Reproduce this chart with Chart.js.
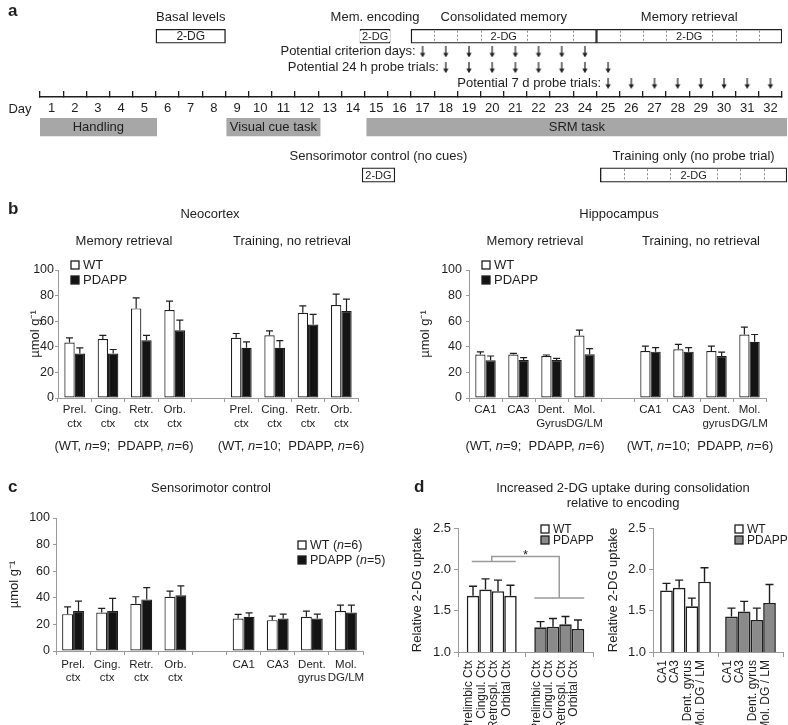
<!DOCTYPE html>
<html>
<head>
<meta charset="utf-8">
<script src="https://cdn.jsdelivr.net/npm/chart.js@4.4.1/dist/chart.umd.min.js"></script>
<style>
  html, body { margin: 0; padding: 0; background: #fff; }
  body { width: 788px; height: 725px; position: relative; overflow: hidden;
         font-family: "Liberation Sans", Arial, Helvetica, sans-serif; color: #1e1e1e; }
  canvas { position: absolute; }
  .t { position: absolute; white-space: nowrap; font-size: 13px; transform: translate(-50%, -50%); }
  .p { position: absolute; font-weight: bold; font-size: 17px; transform: translateY(-50%); }
</style>
</head>
<body>
<canvas id="aTop" width="788" height="120" style="left:0;top:0"></canvas>
<canvas id="aBottom" width="788" height="82" style="left:0;top:118px"></canvas>
<canvas id="bNeo" width="395" height="250" style="left:0;top:200px"></canvas>
<canvas id="bHip" width="393" height="250" style="left:395px;top:200px"></canvas>
<canvas id="cCtrl" width="420" height="275" style="left:0;top:450px"></canvas>
<canvas id="dNeo" width="200" height="275" style="left:400px;top:450px"></canvas>
<canvas id="dHip" width="188" height="275" style="left:600px;top:450px"></canvas>

<div class="p" style="left:8px;top:11px">a</div>
<div class="p" style="left:8px;top:209px">b</div>
<div class="t" style="left:210px;top:213px">Neocortex</div>
<div class="t" style="left:124px;top:240px">Memory retrieval</div>
<div class="t" style="left:292px;top:240px">Training, no retrieval</div>
<div class="t" style="left:619px;top:213px">Hippocampus</div>
<div class="t" style="left:535px;top:240px">Memory retrieval</div>
<div class="t" style="left:701px;top:240px">Training, no retrieval</div>
<div class="t" style="left:124px;top:445px">(WT, <i>n</i>=9;&nbsp; PDAPP, <i>n</i>=6)</div>
<div class="t" style="left:291px;top:445px">(WT, <i>n</i>=10;&nbsp; PDAPP, <i>n</i>=6)</div>
<div class="t" style="left:535px;top:445px">(WT, <i>n</i>=9;&nbsp; PDAPP, <i>n</i>=6)</div>
<div class="t" style="left:700px;top:445px">(WT, <i>n</i>=10;&nbsp; PDAPP, <i>n</i>=6)</div>
<div class="p" style="left:8px;top:487px">c</div>
<div class="t" style="left:211px;top:487px">Sensorimotor control</div>
<div class="p" style="left:414px;top:487px">d</div>
<div class="t" style="left:623px;top:487px">Increased 2-DG uptake during consolidation</div>
<div class="t" style="left:623px;top:502px">relative to encoding</div>

<script>
const FONT = '"Liberation Sans", Arial, Helvetica, sans-serif';
const INK = '#1e1e1e';
const AXIS = '#9a9a9a';

// ---- panel a: protocol timeline ----
const dayLabels = ['1', '2', '3', '4', '5', '6', '7', '8', '9', '10', '11', '12', '13', '14', '15', '16',
                   '17', '18', '19', '20', '21', '22', '23', '24', '25', '26', '27', '28', '29', '30', '31', '32'];
const taskNames = ['Handling', 'Visual cue task', 'SRM task'];
const taskSpans = [[0.5, 5.5], [8.5, 12.5], [14.5, 32.5]];
const dgTitles = ['Basal levels', 'Mem. encoding', 'Consolidated memory', 'Memory retrieval'];
const dgSpans = [[5.5, 8.5], [14.3, 15.6], [16.5, 24.5], [24.5, 32.5]];
const ctrlTitles = ['Sensorimotor control (no cues)', 'Training only (no probe trial)'];
const ctrlSpans = [[14.3, 15.7], [24.5, 32.5]];
const criterionDays = [17, 18, 19, 20, 21, 22, 23, 24];
const probe24hDays = [18, 19, 20, 21, 22, 23, 24, 25];
const probe7dDays = [25, 26, 27, 28, 29, 30, 31, 32];

// ---- panel b: neocortex ----
const neoLabels = [['Prel.', 'ctx'], ['Cing.', 'ctx'], ['Retr.', 'ctx'], ['Orb.', 'ctx'], '',
                   ['Prel.', 'ctx'], ['Cing.', 'ctx'], ['Retr.', 'ctx'], ['Orb.', 'ctx']];
const neoWT = [43.3, 46, 70, 68.7, null, 47, 49, 66.6, 72.6];
const neoWTsem = [3.7, 3, 8.3, 7, null, 3.4, 3.5, 5.4, 8.6];
const neoPD = [34.7, 34.7, 45.2, 53, null, 39.2, 39.2, 57.4, 67.9];
const neoPDsem = [4.5, 3.2, 3.8, 7.8, null, 4.7, 5.7, 7.9, 9.4];

// ---- panel b: hippocampus ----
const hipLabels = ['CA1', 'CA3', ['Dent.', 'Gyrus'], ['Mol.', 'DG/LM'], '',
                   'CA1', 'CA3', ['Dent.', 'gyrus'], ['Mol.', 'DG/LM']];
const hipWT = [34, 34, 32.8, 48.8, null, 36.7, 38, 36.7, 49.6];
const hipWTsem = [2.1, 0.8, 0.8, 4.2, null, 3.9, 3.9, 3.9, 5.7];
const hipPD = [29.5, 29.7, 29.7, 34.1, null, 36.2, 36.2, 32.8, 43.9];
const hipPDsem = [3.3, 1.8, 1.3, 4.4, null, 3.1, 3.1, 3.1, 5.7];

// ---- panel c: sensorimotor control ----
const ctrlLabels = [['Prel.', 'ctx'], ['Cing.', 'ctx'], ['Retr.', 'ctx'], ['Orb.', 'ctx'], '',
                    'CA1', 'CA3', ['Dent.', 'gyrus'], ['Mol.', 'DG/LM']];
const ctrlWT = [27.7, 29, 35.5, 40.8, null, 24.4, 23.2, 25.7, 30];
const ctrlWTsem = [5.5, 3, 5.3, 4.2, null, 3.1, 3, 4.3, 4.5];
const ctrlPD = [30, 30, 38.8, 42, null, 25.7, 24.4, 24.4, 29];
const ctrlPDsem = [7.5, 9.5, 8.8, 6.9, null, 3, 3.3, 3.3, 5.5];

// ---- panel d: relative uptake, consolidation vs encoding ----
const dGroups = ['WT', 'PDAPP'];
const dNeoRegions = ['Prelimbic Ctx', 'Cingul. Ctx', 'Retrospl. Ctx', 'Orbital Ctx'];
const dNeoWT = [1.68, 1.755, 1.735, 1.68];
const dNeoWTsem = [0.115, 0.13, 0.135, 0.127];
const dNeoPD = [1.298, 1.306, 1.335, 1.278];
const dNeoPDsem = [0.07, 0.1, 0.094, 0.11];
const dHipRegions = ['CA1', 'CA3', 'Dent. gyrus', 'Mol. DG / LM'];
const dHipWT = [1.744, 1.776, 1.552, 1.85];
const dHipWTsem = [0.086, 0.094, 0.1, 0.17];
const dHipPD = [1.429, 1.49, 1.388, 1.593];
const dHipPDsem = [0.102, 0.123, 0.143, 0.224];
const sigLevels = [2.096, 1.653, 2.156];

Chart.defaults.font.family = FONT;
Chart.defaults.color = INK;

// small down arrow used as point style
function arrowGlyph() {
    const c = document.createElement('canvas');
    c.width = 8; c.height = 11;
    const g = c.getContext('2d');
    g.strokeStyle = INK; g.lineWidth = 1.2;
    g.beginPath(); g.moveTo(4, 0); g.lineTo(4, 8); g.stroke();
    g.fillStyle = INK;
    g.beginPath(); g.moveTo(1.3, 6.6); g.lineTo(6.7, 6.6); g.lineTo(4, 11); g.closePath(); g.fill();
    return c;
}
const ARROW = arrowGlyph();

function drawRich(ctx, text, x, y, size) {
    ctx.textAlign = 'left';
    ctx.textBaseline = 'middle';
    ctx.fillStyle = INK;
    text.split('*').forEach((part, k) => {
        ctx.font = (k % 2 ? 'italic ' : '') + size + 'px ' + FONT;
        ctx.fillText(part, x, y);
        x += ctx.measureText(part).width;
    });
}

// ================= PLUGINS =================
const timeline = {
    id: 'timeline',
    afterDatasetsDraw(chart) {
        const ctx = chart.ctx, xv = chart.scales.xv;
        chart.data.datasets.forEach((ds, i) => {
            const meta = chart.getDatasetMeta(i);
            if (meta.type !== 'bar') return;
            meta.data.forEach((bar, j) => {
                const [s, e] = ds.data[j].x;
                const top = bar.y - bar.height / 2, bot = bar.y + bar.height / 2;
                if (ds.dayLines && ds.dayLines[j]) {
                    ctx.save();
                    ctx.setLineDash([2, 2]);
                    ctx.strokeStyle = '#8a8a8a';
                    ctx.lineWidth = 1;
                    for (let d = s + 1; d < e - 0.01; d++) {
                        const x = Math.round(xv.getPixelForValue(d)) + 0.5;
                        ctx.beginPath(); ctx.moveTo(x, top + 1.5); ctx.lineTo(x, bot - 1.5); ctx.stroke();
                    }
                    ctx.restore();
                }
                const cx = (bar.x + bar.base) / 2;
                ctx.textAlign = 'center';
                ctx.textBaseline = 'middle';
                if (ds.inner) {
                    const text = Array.isArray(ds.inner) ? ds.inner[j] : ds.inner;
                    const size = Array.isArray(ds.innerSize) ? ds.innerSize[j] : ds.innerSize;
                    ctx.font = size + 'px ' + FONT;
                    if (ds.innerBg) {
                        const w = ctx.measureText(text).width + 4;
                        ctx.fillStyle = ds.innerBg;
                        ctx.fillRect(cx - w / 2, top + 1.5, w, bot - top - 3);
                    }
                    ctx.fillStyle = INK;
                    ctx.fillText(text, cx, bar.y + 0.5);
                }
                if (ds.titles) {
                    ctx.font = '13px ' + FONT;
                    ctx.fillStyle = INK;
                    ctx.fillText(ds.titles[j], cx, bar.y - 18.5);
                }
            });
        });
    },
    afterDraw(chart, args, opts) {
        const ctx = chart.ctx;
        ctx.save();
        ctx.font = '13px ' + FONT;
        ctx.fillStyle = INK;
        ctx.textBaseline = 'middle';
        chart.data.datasets.forEach((ds, i) => {
            if (!ds.rowLabel) return;
            const p = chart.getDatasetMeta(i).data[0];
            ctx.textAlign = 'right';
            ctx.fillText(ds.label, p.x - 7, p.y);
        });
        if (opts.dayWord) {
            ctx.textAlign = 'center';
            ctx.fillText(opts.dayWord, 20, chart.chartArea.bottom + 12);
        }
        ctx.restore();
    }
};

const errorBars = {
    id: 'errorBars',
    afterDatasetsDraw(chart, args, opts) {
        const ctx = chart.ctx, y = chart.scales.y;
        chart.data.datasets.forEach((ds, i) => {
            if (!ds.sem) return;
            ctx.save();
            ctx.strokeStyle = INK;
            ctx.lineWidth = opts.width || 1.2;
            chart.getDatasetMeta(i).data.forEach((bar, j) => {
                const v = ds.data[j], e = ds.sem[j];
                if (v == null || e == null) return;
                const yTop = y.getPixelForValue(v + e);
                const cap = opts.cap || 3.5;
                ctx.beginPath();
                ctx.moveTo(bar.x, bar.y);
                ctx.lineTo(bar.x, yTop);
                ctx.moveTo(bar.x - cap, yTop);
                ctx.lineTo(bar.x + cap, yTop);
                ctx.stroke();
            });
            ctx.restore();
        });
    }
};

const boxLegend = {
    id: 'boxLegend',
    afterDraw(chart, args, opts) {
        const ctx = chart.ctx, a = chart.chartArea;
        const items = opts.items || chart.data.datasets.map(d => ({ text: d.label, fill: d.backgroundColor }));
        items.forEach((it, k) => {
            const x = a.left + opts.dx, y = a.top + opts.dy + k * opts.gap;
            ctx.save();
            ctx.fillStyle = it.fill;
            ctx.strokeStyle = INK;
            ctx.lineWidth = 1.3;
            ctx.fillRect(x, y - 4, 8, 8);
            ctx.strokeRect(x, y - 4, 8, 8);
            drawRich(ctx, it.text, x + 12, y + 0.5, opts.size);
            ctx.restore();
        });
    }
};

const barLabels = {
    id: 'barLabels',
    afterDraw(chart, args, opts) {
        if (!opts.show) return;
        const ctx = chart.ctx, bottom = chart.chartArea.bottom;
        chart.data.datasets.forEach((ds, i) => {
            chart.getDatasetMeta(i).data.forEach(bar => {
                ctx.save();
                ctx.translate(bar.x - 4, bottom + 8);
                ctx.rotate(-Math.PI / 2);
                ctx.textAlign = 'right';
                ctx.textBaseline = 'middle';
                ctx.font = '12px ' + FONT;
                ctx.fillStyle = INK;
                ctx.fillText(ds.label, 0, 0);
                ctx.restore();
            });
        });
    }
};

const sigBracket = {
    id: 'sigBracket',
    afterDraw(chart, args, opts) {
        if (!opts.levels) return;
        const ctx = chart.ctx, y = chart.scales.y;
        const metas = chart.data.datasets.map((d, i) => chart.getDatasetMeta(i));
        const span = g => {
            const first = metas[0].data[g], last = metas[metas.length - 1].data[g];
            return [first.x - first.width / 2, last.x + last.width / 2];
        };
        const [w0, w1] = span(0), [p0, p1] = span(1);
        const [wLvl, pLvl, topLvl] = opts.levels.map(v => y.getPixelForValue(v));
        const wc = (w0 + w1) / 2, pc = (p0 + p1) / 2;
        ctx.save();
        ctx.strokeStyle = '#9b9b9b';
        ctx.lineWidth = 1.5;
        ctx.beginPath();
        ctx.moveTo(w0 + 5, wLvl); ctx.lineTo(w1 - 1, wLvl);
        ctx.moveTo(wc, wLvl); ctx.lineTo(wc, topLvl); ctx.lineTo(pc, topLvl); ctx.lineTo(pc, pLvl);
        ctx.moveTo(p0, pLvl); ctx.lineTo(p1, pLvl);
        ctx.stroke();
        ctx.fillStyle = INK;
        ctx.font = '13px ' + FONT;
        ctx.textAlign = 'center';
        ctx.textBaseline = 'middle';
        ctx.fillText(opts.mark, (wc + pc) / 2, topLvl - 1);
        ctx.restore();
    }
};

// ================= PANEL A =================
function arrowRow(label, days, row) {
    return {
        type: 'scatter', label, rowLabel: true, xAxisID: 'xv', yAxisID: 'y',
        data: days.map(d => ({ x: d, y: row })),
        pointStyle: ARROW, pointRadius: 5
    };
}

const hiddenScales = (yMin, yMax) => ({
    xv: { type: 'linear', display: false, offset: false, min: 0.5, max: 32.5 },
    y: { type: 'linear', display: false, offset: false, reverse: true, min: yMin, max: yMax }
});

new Chart(document.getElementById('aTop'), {
    type: 'bar',
    data: {
        labels: dayLabels,
        datasets: [
            {
                indexAxis: 'y', xAxisID: 'xv', yAxisID: 'y',
                data: dgSpans.map(s => ({ x: s, y: 1 })),
                titles: dgTitles, inner: '2-DG', innerSize: [12, 11, 11, 11], innerBg: '#fff',
                dayLines: [false, false, true, true],
                grouped: false, barThickness: 14,
                backgroundColor: '#fff', borderColor: INK, borderWidth: 1.4, borderSkipped: false
            },
            arrowRow('Potential criterion days:', criterionDays, 2),
            arrowRow('Potential 24 h probe trials:', probe24hDays, 3),
            arrowRow('Potential 7 d probe trials:', probe7dDays, 4)
        ]
    },
    options: {
        responsive: false, animation: false,
        layout: { padding: { left: 40, right: 1, top: 7, bottom: 0 } },
        plugins: { legend: { display: false }, tooltip: { enabled: false }, timeline: { dayWord: 'Day' } },
        scales: Object.assign({
            x: {
                type: 'category', offset: true,
                afterFit: s => { s.height = 23; },
                grid: { offset: true, drawOnChartArea: false, tickLength: -6, color: INK, lineWidth: 1.3 },
                border: { color: INK, width: 1.6 },
                ticks: { autoSkip: false, maxRotation: 0, padding: 10, color: INK, font: { size: 13 } }
            }
        }, hiddenScales(-0.86, 4.87))
    },
    plugins: [timeline]
});

new Chart(document.getElementById('aBottom'), {
    type: 'bar',
    data: {
        datasets: [
            {
                indexAxis: 'y', xAxisID: 'xv', yAxisID: 'y',
                data: taskSpans.map(s => ({ x: s, y: 0 })),
                inner: taskNames, innerSize: 13,
                grouped: false, barThickness: 18,
                backgroundColor: '#a7a7a7', borderWidth: 0
            },
            {
                indexAxis: 'y', xAxisID: 'xv', yAxisID: 'y',
                data: ctrlSpans.map(s => ({ x: s, y: 1 })),
                titles: ctrlTitles, inner: '2-DG', innerSize: 11, innerBg: '#fff',
                dayLines: [false, true],
                grouped: false, barThickness: 14.5,
                backgroundColor: '#fff', borderColor: INK, borderWidth: 1.4, borderSkipped: false
            }
        ]
    },
    options: {
        responsive: false, animation: false,
        layout: { padding: { left: 40, right: 1, top: 0, bottom: 0 } },
        plugins: { legend: { display: false }, tooltip: { enabled: false } },
        scales: hiddenScales(-0.1875, 1.521)
    },
    plugins: [timeline]
});

// ================= PANELS B, C =================
function regionChart(id, o) {
    const style = { borderColor: INK, borderWidth: 1.2, borderSkipped: false, categoryPercentage: o.cat, barPercentage: 1 };
    return new Chart(document.getElementById(id), {
        type: 'bar',
        data: {
            labels: o.labels,
            datasets: [
                Object.assign({ label: o.legend[0], data: o.wt, sem: o.wtSem, backgroundColor: '#ffffff' }, style),
                Object.assign({ label: o.legend[1], data: o.pd, sem: o.pdSem, backgroundColor: '#141414' }, style)
            ]
        },
        options: {
            responsive: false, animation: false,
            layout: { padding: { left: 0, right: o.padRight, top: o.padTop, bottom: 0 } },
            plugins: {
                legend: { display: false }, tooltip: { enabled: false },
                errorBars: { cap: 3.5, width: 1.2 },
                boxLegend: { dx: o.legendDx, dy: o.legendDy, gap: 15, size: o.legendSize }
            },
            scales: {
                x: {
                    offset: true,
                    afterFit: s => { s.height = o.axisH; },
                    grid: { offset: true, drawOnChartArea: false, tickLength: 4, color: AXIS },
                    border: { color: AXIS },
                    ticks: { autoSkip: false, maxRotation: 0, padding: o.tickPad, color: INK,
                             font: { size: 11.5, lineHeight: o.lineH } }
                },
                y: {
                    min: 0, max: 100,
                    afterFit: s => { s.width = o.axisW; },
                    grid: { drawOnChartArea: false, tickLength: 3, color: AXIS },
                    border: { color: AXIS },
                    ticks: { stepSize: 20, padding: o.yPad, color: INK, font: { size: 12.5 } },
                    title: { display: true, text: 'µmol g⁻¹', color: INK, font: { size: 13 },
                             padding: { top: o.titlePad, bottom: 0 } }
                }
            }
        },
        plugins: [errorBars, boxLegend]
    });
}

regionChart('bNeo', {
    labels: neoLabels, wt: neoWT, wtSem: neoWTsem, pd: neoPD, pdSem: neoPDsem,
    legend: ['WT', 'PDAPP'], cat: 0.62,
    padRight: 37, padTop: 70, axisH: 52, axisW: 58, yPad: 1, tickPad: 1, lineH: 1.2, titlePad: 28,
    legendDx: 13, legendDy: -5, legendSize: 13
});

regionChart('bHip', {
    labels: hipLabels, wt: hipWT, wtSem: hipWTsem, pd: hipPD, pdSem: hipPDsem,
    legend: ['WT', 'PDAPP'], cat: 0.62,
    padRight: 22, padTop: 70, axisH: 52, axisW: 74, yPad: 4, tickPad: 1, lineH: 1.2, titlePad: 23,
    legendDx: 13, legendDy: -5, legendSize: 13
});

regionChart('cCtrl', {
    labels: ctrlLabels, wt: ctrlWT, wtSem: ctrlWTsem, pd: ctrlPD, pdSem: ctrlPDsem,
    legend: ['WT (*n*=6)', 'PDAPP (*n*=5)'], cat: 0.64,
    padRight: 57, padTop: 68, axisH: 74, axisW: 56, yPad: 3, tickPad: 3, lineH: 1.13, titlePad: 7,
    legendDx: 242, legendDy: 27, legendSize: 12.5
});

// ================= PANEL D =================
function ratioChart(id, o) {
    const groupFill = ['#ffffff', '#8a8a8a'];
    return new Chart(document.getElementById(id), {
        type: 'bar',
        data: {
            labels: dGroups,
            datasets: o.regions.map((r, i) => ({
                label: r,
                data: [o.wt[i], o.pd[i]],
                sem: [o.wtSem[i], o.pdSem[i]],
                backgroundColor: groupFill, borderColor: INK, borderWidth: 1.6, borderSkipped: false,
                categoryPercentage: o.cat, barPercentage: 1
            }))
        },
        options: {
            responsive: false, animation: false,
            layout: { padding: { left: 0, right: o.padRight, top: 78, bottom: 0 } },
            plugins: {
                legend: { display: false }, tooltip: { enabled: false },
                errorBars: { cap: 4, width: 1.4 },
                boxLegend: { dx: o.legendDx, dy: 1, gap: 11, size: 12,
                             items: dGroups.map((g, k) => ({ text: g, fill: groupFill[k] })) },
                barLabels: { show: true },
                sigBracket: o.sig ? { levels: sigLevels, mark: '*' } : {}
            },
            scales: {
                x: {
                    offset: true,
                    afterFit: s => { s.height = 73; },
                    grid: { offset: true, drawOnChartArea: false, tickLength: 5, color: AXIS },
                    border: { color: AXIS },
                    ticks: { display: false }
                },
                y: {
                    min: 1, max: 2.5, beginAtZero: false,
                    afterFit: s => { s.width = o.axisW; },
                    grid: { drawOnChartArea: false, tickLength: 4, color: AXIS },
                    border: { color: AXIS },
                    ticks: { stepSize: 0.5, padding: 3, color: INK, font: { size: 13 }, callback: v => v.toFixed(1) },
                    title: { display: true, text: 'Relative 2-DG uptake', color: INK, font: { size: 13 },
                             padding: { top: o.titlePad, bottom: 0 } }
                }
            }
        },
        plugins: [errorBars, boxLegend, barLabels, sigBracket]
    });
}

ratioChart('dNeo', {
    regions: dNeoRegions, wt: dNeoWT, wtSem: dNeoWTsem, pd: dNeoPD, pdSem: dNeoPDsem,
    cat: 0.74, padRight: 7, axisW: 58, titlePad: 10, legendDx: 83, sig: true
});

ratioChart('dHip', {
    regions: dHipRegions, wt: dHipWT, wtSem: dHipWTsem, pd: dHipPD, pdSem: dHipPDsem,
    cat: 0.78, padRight: 5, axisW: 53, titlePad: 6, legendDx: 82, sig: false
});
</script>
</body>
</html>
